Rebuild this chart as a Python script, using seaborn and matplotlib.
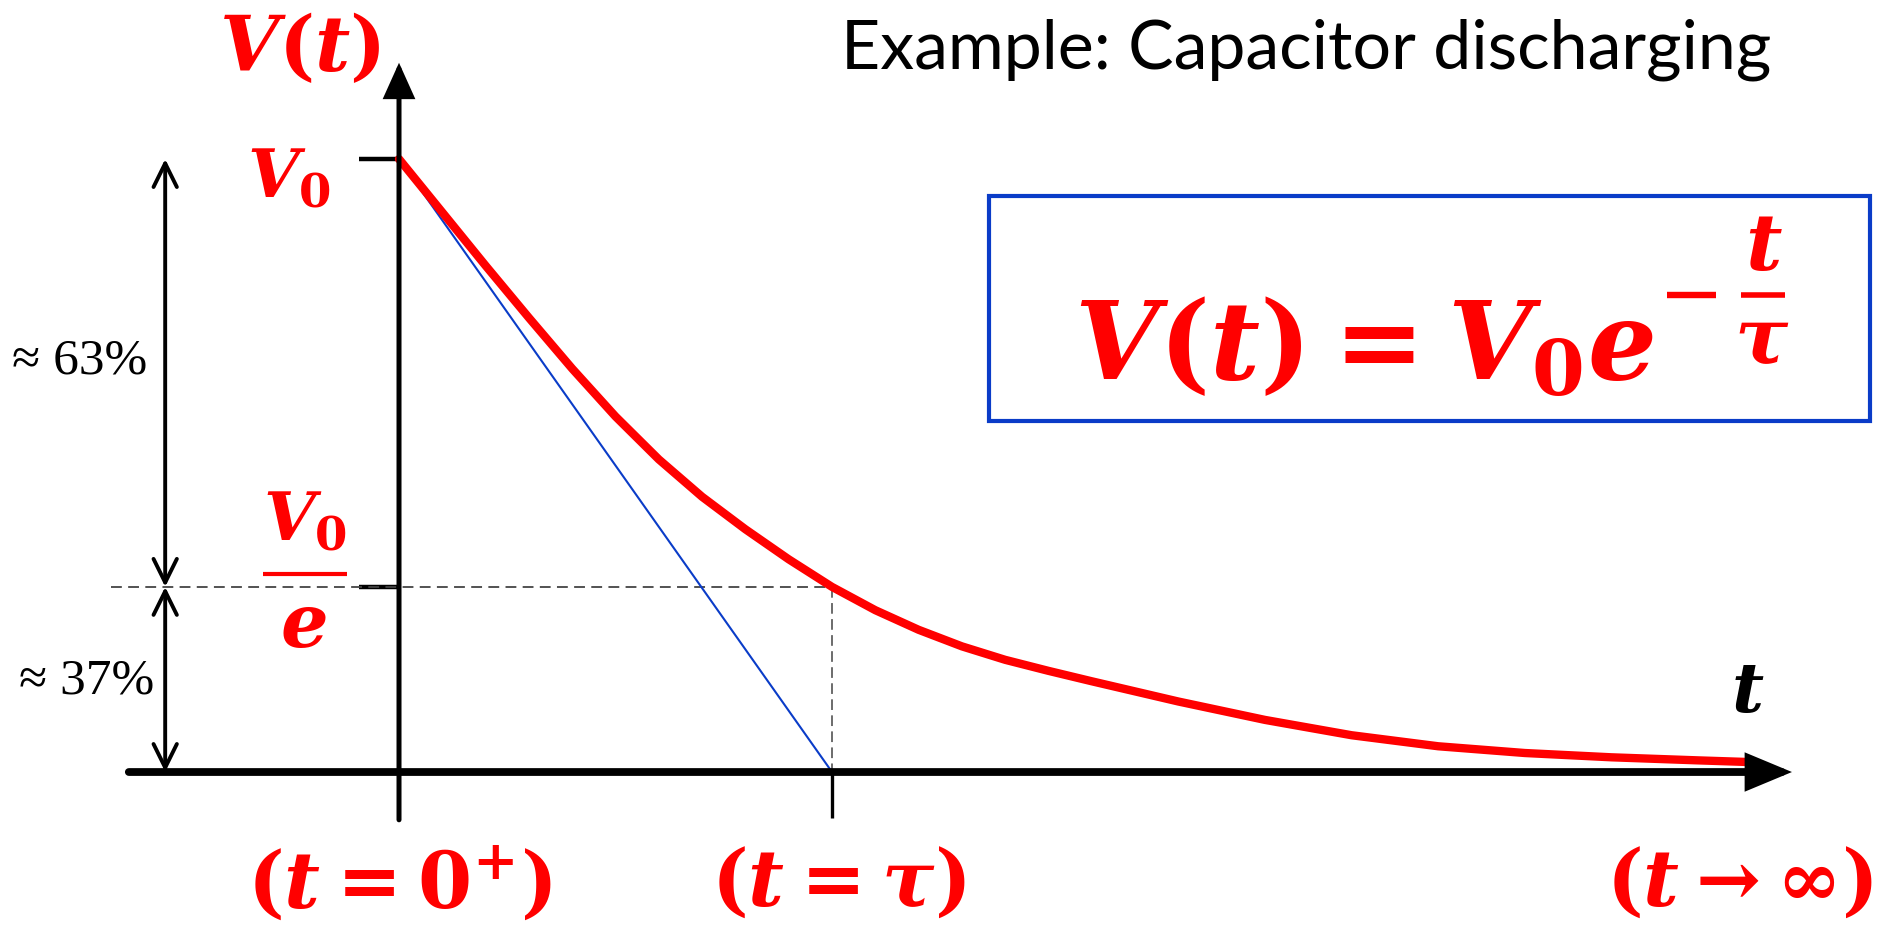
import matplotlib
matplotlib.use("Agg")
import matplotlib.pyplot as plt
import pandas as pd
import seaborn as sns
from matplotlib.patches import Rectangle

# ---------------- data (t in units of tau, V in units of V0, as drawn) ----------------
T_CURVE = [0.0, 0.1, 0.2, 0.3, 0.4, 0.5, 0.6, 0.7, 0.8, 0.9, 1.0, 1.1, 1.2, 1.3,
           1.4, 1.5, 1.6, 1.8, 2.0, 2.2, 2.4, 2.6, 2.8, 3.0, 3.13]
V_CURVE = [1.0, 0.913, 0.826, 0.741, 0.658, 0.580, 0.510, 0.449, 0.396, 0.347, 0.302,
           0.264, 0.232, 0.205, 0.183, 0.165, 0.148, 0.115, 0.085, 0.060, 0.042,
           0.031, 0.024, 0.019, 0.016]
T_TANGENT = [0.0, 1.0]
V_TANGENT = [1.0, 0.0]
V0_LEVEL = 1.0
VE_LEVEL = 0.302
TAU = 1.0

TITLE = "Example: Capacitor discharging"
Y_LABEL = r"$V(t)$"
X_LABEL = r"$t$"
V0_LABEL = r"$V_0$"
VE_NUM = r"$V_0$"
VE_DEN = r"$e$"
FORMULA_MAIN = r"$V(t)=V_0e$"
EXP_NUM = r"$t$"
EXP_DEN = r"$\tau$"
PCT_LABELS = ["\u2248 63%", "\u2248 37%"]
X_TICK_LABELS = [r"$(t=0^{+})$", r"$(t=\tau)$", r"$(t\rightarrow\infty)$"]

# ---------------- style ----------------
sns.set_theme(style="white")
plt.rcParams["mathtext.fontset"] = "custom"
plt.rcParams["mathtext.it"] = "DejaVu Serif:italic:bold"
plt.rcParams["mathtext.rm"] = "DejaVu Serif:bold"
plt.rcParams["mathtext.bf"] = "DejaVu Serif:bold"
plt.rcParams["mathtext.default"] = "it"
plt.rcParams["font.family"] = ["DejaVu Sans"]

RED = "#ff0000"
BLUE = "#0a3cc8"

fig = plt.figure(figsize=(18.77, 9.26), dpi=100)
ax = fig.add_axes([0, 0, 1, 1])
X0, X1 = -0.9215, 3.4134
Y0, Y1 = -0.2512, 1.2594
ax.set_xlim(X0, X1)
ax.set_ylim(Y0, Y1)
ax.axis("off")
PX_T = (X1 - X0) / 1877.0   # data units per pixel, horizontal
PX_V = (Y1 - Y0) / 926.0    # data units per pixel, vertical

# axes arrows
T_LEFT, T_RIGHT = -0.624, 3.217
V_BOTTOM, V_TOP = -0.078, 1.157
ax.annotate("", xy=(T_RIGHT, 0), xytext=(T_LEFT, 0),
            arrowprops=dict(arrowstyle="-|>,head_length=1.2,head_width=0.5", lw=5.6,
                            color="black", shrinkA=0, shrinkB=0, mutation_scale=20,
                            joinstyle="miter"))
ax.annotate("", xy=(0, V_TOP), xytext=(0, V_BOTTOM),
            arrowprops=dict(arrowstyle="-|>,head_length=1.0,head_width=0.45", lw=3.6,
                            color="black", shrinkA=0, shrinkB=0, mutation_scale=20,
                            joinstyle="miter"))

# level ticks
TICK_T = -0.092
ax.plot([TICK_T, 0], [V0_LEVEL, V0_LEVEL], color="black", lw=3.2, solid_capstyle="butt")
ax.plot([TICK_T, 0], [VE_LEVEL, VE_LEVEL], color="black", lw=3.2, solid_capstyle="butt")
ax.plot([TAU, TAU], [0, -0.075], color="black", lw=2.4, solid_capstyle="butt")

# dashed guides
ax.plot([-0.665, TAU], [VE_LEVEL, VE_LEVEL], color="#444444", lw=1.3,
        linestyle=(0, (6, 3.5)))
ax.plot([TAU, TAU], [VE_LEVEL, 0], color="#444444", lw=1.1, linestyle=(0, (7, 3.5)))

# tangent and curve
sns.lineplot(x=T_TANGENT, y=V_TANGENT, ax=ax, color=BLUE, linewidth=1.5, sort=False,
             estimator=None)
curve = pd.DataFrame({"t": T_CURVE, "V": V_CURVE})
sns.lineplot(data=curve, x="t", y="V", ax=ax, color=RED, linewidth=6.0, sort=False,
             estimator=None, solid_capstyle="round", solid_joinstyle="round")

# percentage arrows
ARROW_T = -0.54
for y0, y1 in [(VE_LEVEL, V0_LEVEL), (0, VE_LEVEL)]:
    ax.annotate("", xy=(ARROW_T, y1), xytext=(ARROW_T, y0),
                arrowprops=dict(arrowstyle="<->,head_length=0.85,head_width=0.42",
                                lw=2.8, color="black", shrinkA=0, shrinkB=0,
                                mutation_scale=20, capstyle="round", joinstyle="round"))
ax.text(-0.737, 0.670, PCT_LABELS[0], ha="center", va="center", fontsize=37,
        family=["Liberation Serif", "DejaVu Serif"], color="black")
ax.text(-0.721, 0.148, PCT_LABELS[1], ha="center", va="center", fontsize=37,
        family=["Liberation Serif", "DejaVu Serif"], color="black")

# labels
ax.text(-0.229, 1.178, Y_LABEL, ha="center", va="center", fontsize=55, color=RED)
ax.text(-0.350, 1.0 - 38 * PX_V, V0_LABEL, ha="left", va="baseline", fontsize=48,
        color=RED)
# V0 / e stacked fraction
VE_T = -0.217
ax.text(VE_T, VE_LEVEL + 47 * PX_V, VE_NUM, ha="center", va="baseline", fontsize=48,
        color=RED)
ax.plot([VE_T - 42 * PX_T, VE_T + 42 * PX_T], [VE_LEVEL + 13 * PX_V] * 2, color=RED,
        lw=3.0, solid_capstyle="butt")
ax.text(VE_T - 2 * PX_T, VE_LEVEL - 60 * PX_V, VE_DEN, ha="center", va="baseline",
        fontsize=54, color=RED)

ax.text(3.115, 0.129, X_LABEL, ha="center", va="center", fontsize=50, color="black")
ax.text(3.17, 1.178, TITLE, ha="right", va="center", fontsize=49, family=["Lato"],
        color="black")

# x tick labels
ax.text(0.0, -0.183, X_TICK_LABELS[0], ha="center", va="center", fontsize=56, color=RED)
ax.text(1.014, -0.183, X_TICK_LABELS[1], ha="center", va="center", fontsize=56, color=RED)
ax.text(3.404, -0.183, X_TICK_LABELS[2], ha="right", va="center", fontsize=56, color=RED)

# formula box
BOX_T0, BOX_T1 = 1.363, 3.397
BOX_V0, BOX_V1 = 0.573, 0.940
ax.add_patch(Rectangle((BOX_T0, BOX_V0), BOX_T1 - BOX_T0, BOX_V1 - BOX_V0, fill=False,
                       ec=BLUE, lw=3.0))
BASE_V = BOX_V1 - 183 * PX_V   # baseline of main formula
BAR_V = BOX_V1 - 99 * PX_V     # exponent minus / fraction-bar level
main = ax.text(0, BASE_V, FORMULA_MAIN, ha="left", va="baseline", fontsize=78, color=RED)
fig.canvas.draw()
r = fig.canvas.get_renderer()
w_main = main.get_window_extent(r).width * PX_T
total = w_main + 131 * PX_T
left = (BOX_T0 + BOX_T1) / 2 - total / 2
main.set_x(left)
R = left + w_main
# exponent: minus sign and t/tau fraction
ax.plot([R + 13 * PX_T, R + 62 * PX_T], [BAR_V, BAR_V], color=RED, lw=4.6,
        solid_capstyle="butt")
ax.plot([R + 87 * PX_T, R + 131 * PX_T], [BAR_V, BAR_V], color=RED, lw=4.0,
        solid_capstyle="butt")
ax.text(R + 110 * PX_T, BAR_V + 25 * PX_V, EXP_NUM, ha="center", va="baseline",
        fontsize=57, color=RED)
ax.text(R + 108 * PX_T, BAR_V - 68 * PX_V, EXP_DEN, ha="center", va="baseline",
        fontsize=57, color=RED)

fig.savefig("out.png", dpi=100)
